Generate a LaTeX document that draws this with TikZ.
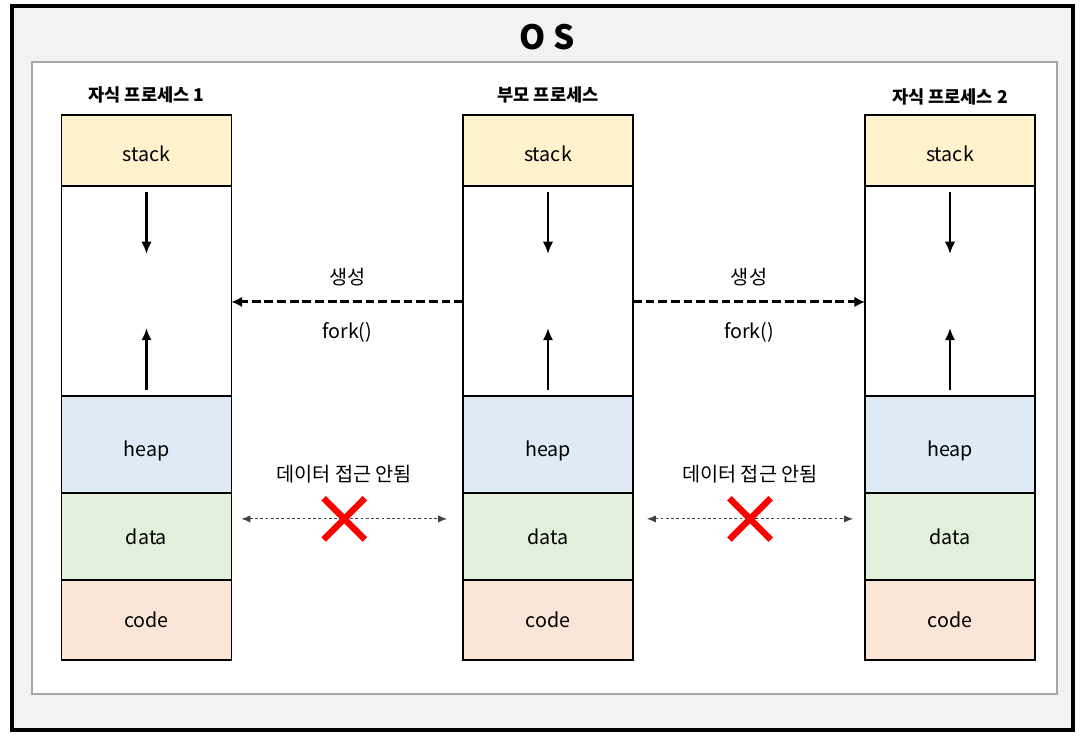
\documentclass[tikz,border=0pt]{standalone}
\usepackage{fontspec}
\setmainfont{Noto Sans CJK KR}
\usetikzlibrary{arrows.meta,shapes.misc}
\definecolor{osgray}{HTML}{F2F2F2}
\definecolor{stackc}{HTML}{FFF2CC}
\definecolor{heapc}{HTML}{DEEBF7}
\definecolor{datac}{HTML}{E2EFDA}
\definecolor{codec}{HTML}{FBE5D6}

\begin{document}
\begin{tikzpicture}[x=0.02cm,y=-0.02cm,
    font=\fontsize{11.2}{13}\selectfont,
    seg/.style={draw,line width=0.9pt,minimum width=3.4cm,inner sep=0,outer sep=0,anchor=north},
    proctitle/.style={font=\bfseries\fontsize{10}{12}\selectfont},
    growarrow/.style={line width=1.4pt,-{Latex[length=7pt,width=6pt]}},
    spawnarrow/.style={line width=1.7pt,dash pattern=on 5pt off 2.2pt,-{Latex[length=6pt,width=6pt]}},
    noaccess/.style={line width=0.5pt,black!75,dash pattern=on 1.6pt off 1.4pt,{Latex[length=5pt,width=4pt]}-{Latex[length=5pt,width=4pt]}},
    nope/.style={cross out,solid,draw=red,line width=3.6pt,minimum size=0.7cm,inner sep=0}]
    \useasboundingbox (0,0) rectangle (1081,736);
    \draw[line width=1.8pt,fill=osgray] (12,6) rectangle (1073,730); % OS frame
    \draw[black!35,line width=0.6pt,fill=white] (32,62) rectangle (1057,694);
    \node[font=\bfseries\fontsize{19}{22}\selectfont] (os) at (547,37) {O S};

    % memory layout of each process
    \foreach \col/\x/\ty/\name in {c1/146.5/95/자식 프로세스 1,p/548/95/부모 프로세스,c2/950/97/자식 프로세스 2} {
        \node[seg,fill=stackc,minimum height=1.42cm,text height=0.45cm] (\col-stack) at (\x,115) {stack};
        \node[seg,fill=white,minimum height=4.2cm] (\col-free) at (\col-stack.south) {};
        \node[seg,fill=heapc,minimum height=1.94cm,text height=0.56cm] (\col-heap) at (\col-free.south) {heap};
        \node[seg,fill=datac,minimum height=1.74cm] (\col-data) at (\col-heap.south) {data};
        \node[seg,fill=codec,minimum height=1.6cm] (\col-code) at (\col-data.south) {code};
        \node[proctitle] (\col-title) at (\x,\ty) {\name};
        \draw[growarrow] ([yshift=-0.12cm]\col-free.north) -- ++(0,62);
        \draw[growarrow] ([yshift=0.12cm]\col-free.south) -- ++(0,-62);
    }

    % fork
    \draw[spawnarrow] ([yshift=-0.22cm]p-free.west) -- ([yshift=-0.22cm]c1-free.east)
        node [midway,yshift=0.5cm] (spawn1) {생성}
        node [midway,yshift=-0.6cm] (fork1) {fork()};
    \draw[spawnarrow] ([yshift=-0.22cm]p-free.east) -- ([yshift=-0.22cm]c2-free.west)
        node [midway,yshift=0.5cm] (spawn2) {생성}
        node [midway,yshift=-0.6cm] (fork2) {fork()};

    % no shared data
    \draw[noaccess] ([xshift=0.2cm,yshift=0.35cm]c1-data.east) -- ([xshift=-0.32cm,yshift=0.35cm]p-data.west)
        node [black,midway,yshift=0.9cm] (deny1) {데이터 접근 안됨}
        node [midway,nope] (x1) {};
    \draw[noaccess] ([xshift=0.28cm,yshift=0.35cm]p-data.east) -- ([xshift=-0.24cm,yshift=0.35cm]c2-data.west)
        node [black,midway,yshift=0.9cm] (deny2) {데이터 접근 안됨}
        node [midway,nope] (x2) {};
\end{tikzpicture}
\end{document}
